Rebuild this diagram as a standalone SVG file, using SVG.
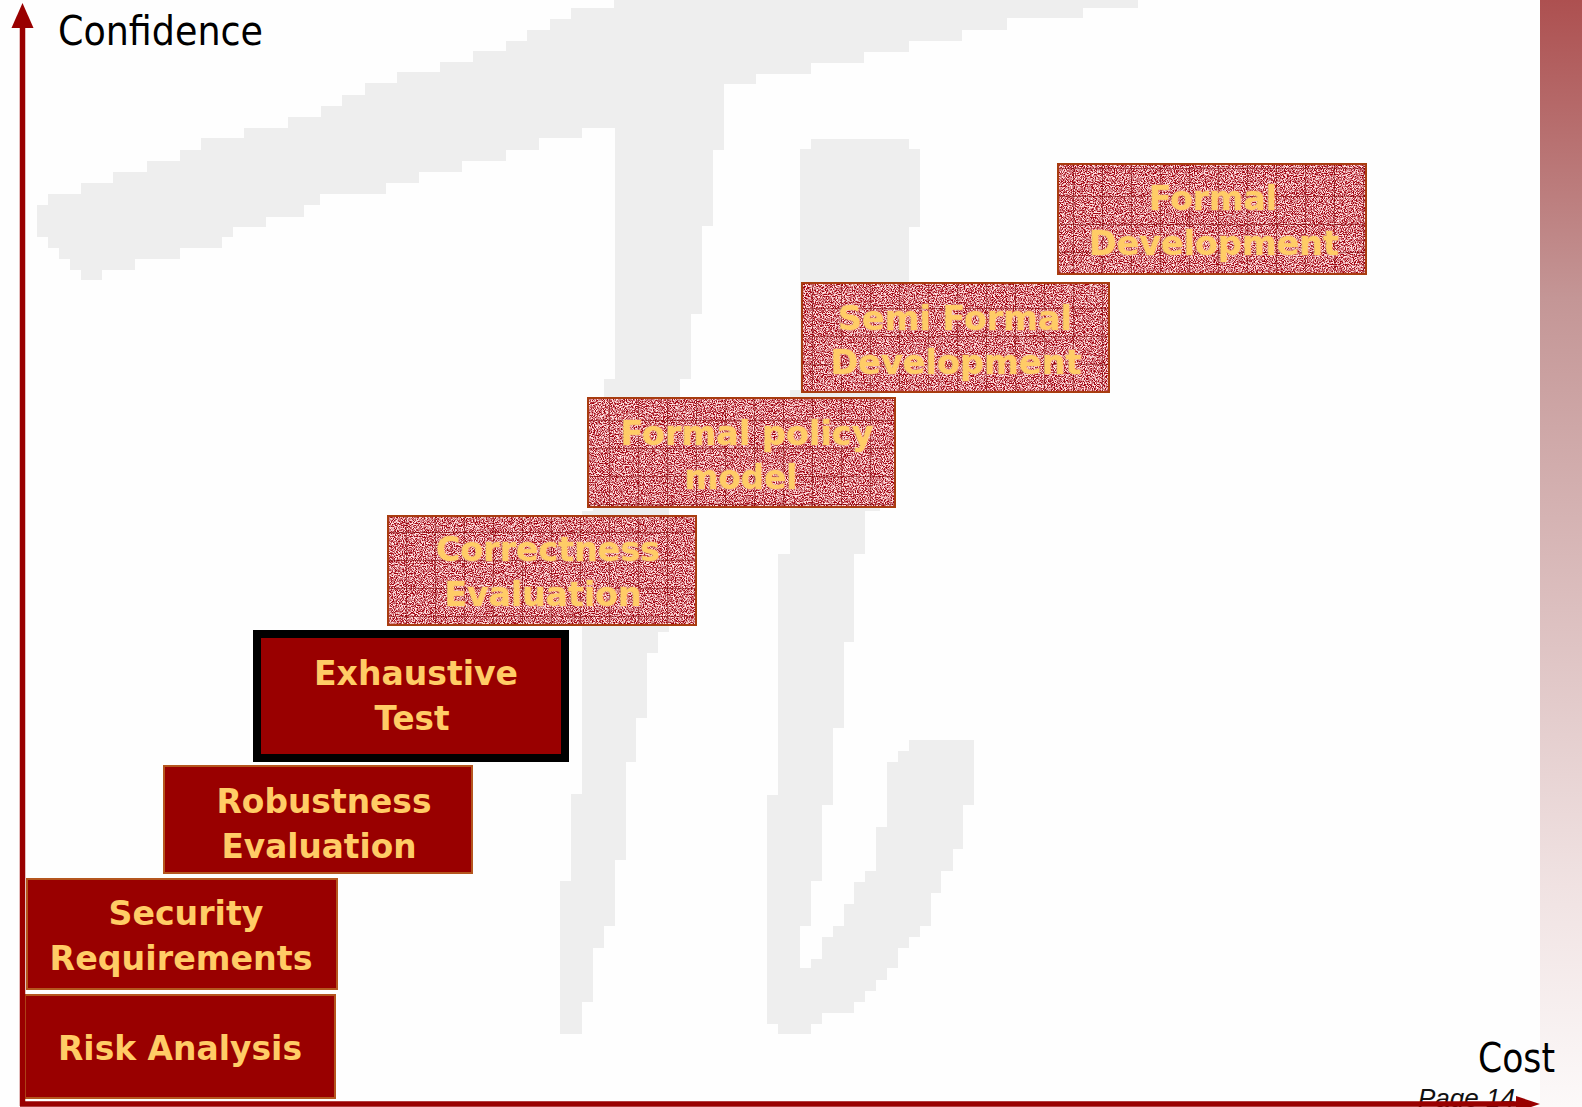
<svg xmlns="http://www.w3.org/2000/svg" width="1582" height="1107" viewBox="0 0 1582 1107">
  <defs>
    <style>
      .axis-label { font-family: "DejaVu Sans", "Liberation Sans", sans-serif; font-size: 41px; fill: #000; }
      .page-label { font-family: "Liberation Sans", Arial, sans-serif; font-style: italic; font-size: 26px; fill: #111; }
      .step-label { font-family: "DejaVu Sans", "Liberation Sans", sans-serif; font-weight: bold; font-size: 34px; fill: #ffcc66; text-anchor: middle; }
      .grain-label { paint-order: stroke; stroke: #f3b59a; stroke-opacity: 0.45; stroke-width: 2; }
      .solid { fill: #990000; stroke: #b5561e; stroke-width: 2; }
      .grain { fill: #a0000e; filter: url(#speckle); }
      .grid { fill: url(#cells); }
      .edge { fill: none; stroke: #a83c10; stroke-width: 2; }
      .mark { fill: #eeeeee; }
      .axis { stroke: #990000; stroke-width: 5.5; fill: none; }
      .head { fill: #990000; }
    </style>
    <linearGradient id="sideband" x1="0" y1="0" x2="0" y2="1">
      <stop offset="0" stop-color="#ad5050"/>
      <stop offset="0.27" stop-color="#c49696"/>
      <stop offset="0.55" stop-color="#dcbfbf"/>
      <stop offset="0.8" stop-color="#f0e2e2"/>
      <stop offset="1" stop-color="#fcf9f9"/>
    </linearGradient>
    <!-- fine red/white grain used by the upper steps -->
    <filter id="speckle" x="0" y="0" width="1" height="1" color-interpolation-filters="sRGB">
      <feTurbulence type="fractalNoise" baseFrequency="0.9" numOctaves="2" seed="7" result="noise"/>
      <feColorMatrix in="noise" type="matrix" values="0 0 0 0 1  0 0 0 0 0.88  0 0 0 0 0.88  4 0 0 0 -1.45" result="spots"/>
      <feComposite in="spots" in2="SourceGraphic" operator="over"/>
    </filter>
    <pattern id="cells" patternUnits="userSpaceOnUse" width="29" height="28">
      <path d="M0.5,0 V28 M0,0.5 H29" stroke="#7a0000" stroke-opacity="0.5" stroke-width="1" fill="none"/>
    </pattern>
  </defs>

  <rect x="0" y="0" width="1582" height="1107" fill="#fefefe"/>

  <!-- large brush-stroke character in the background -->
  <g id="watermark">
    <path class="mark" d="M37,237 V205 H48 V194 H81 V183 H113 V172 H147 V161 H180 V150 H201 V138 H244 V128 H288 V117 H321 V106 H342 V95 H365 V83 H397 V72 H440 V62 H473 V51 H506 V41 H527 V30 H550 V19 H571 V8 H614 V0 H1138 V8 H1083 V18 H1007 V30 H962 V41 H909 V52 H864 V63 H811 V74 H756 V84 H724 V150 H713 V226 H702 V314 H691 V379 H680 V450 H669 V632 H658 V653 H647 V718 H636 V762 H626 V860 H615 V926 H604 V948 H593 V1002 H582 V1034 H560 V881 H571 V794 H582 V511 H593 V470 H604 V379 H615 V128 H582 V138 H539 V150 H506 V161 H462 V172 H419 V183 H386 V194 H320 V205 H304 V217 H266 V227 H233 V237 H222 V248 H180 V259 H135 V270 H102 V280 H81 V270 H70 V259 H59 V248 H48 V237 Z"/>
    <path class="mark" d="M811,139 H909 V149 H920 V227 H909 V282 H880 V511 H865 V554 H854 V642 H844 V728 H833 V805 H822 V881 H811 V926 H800 V968 H811 V959 H822 V937 H833 V926 H844 V904 H854 V882 H865 V871 H876 V827 H887 V762 H898 V751 H909 V740 H974 V805 H963 V849 H953 V871 H941 V893 H931 V926 H920 V937 H909 V948 H898 V968 H887 V980 H876 V991 H865 V1002 H854 V1013 H822 V1024 H811 V1034 H778 V1024 H767 V795 H778 V554 H790 V390 H800 V149 H811 Z"/>
  </g>

  <rect id="side-band" x="1540" y="0" width="42" height="1107" fill="url(#sideband)"/>

  <g id="labels">
    <text class="axis-label" x="58" y="45" textLength="205" lengthAdjust="spacingAndGlyphs">Confidence</text>
    <text class="axis-label" x="1478" y="1072" textLength="77" lengthAdjust="spacingAndGlyphs">Cost</text>
    <text class="page-label" x="1418" y="1107" textLength="97" lengthAdjust="spacingAndGlyphs">Page 14</text>
  </g>

  <g id="risk-analysis">
    <rect class="solid" x="25" y="995" width="310" height="103"/>
    <text class="step-label" x="180" y="1060" textLength="244" lengthAdjust="spacingAndGlyphs">Risk Analysis</text>
  </g>

  <g id="security-requirements">
    <rect class="solid" x="27" y="879" width="310" height="110"/>
    <text class="step-label" x="186" y="925" textLength="155" lengthAdjust="spacingAndGlyphs">Security</text>
    <text class="step-label" x="181" y="970" textLength="263" lengthAdjust="spacingAndGlyphs">Requirements</text>
  </g>

  <g id="robustness-evaluation">
    <rect class="solid" x="164" y="766" width="308" height="107"/>
    <text class="step-label" x="324" y="813" textLength="215" lengthAdjust="spacingAndGlyphs">Robustness</text>
    <text class="step-label" x="319" y="858" textLength="195" lengthAdjust="spacingAndGlyphs">Evaluation</text>
  </g>

  <g id="exhaustive-test">
    <rect x="257" y="634" width="308" height="124" fill="#990000" stroke="#000" stroke-width="8"/>
    <text class="step-label" x="416" y="685" textLength="204" lengthAdjust="spacingAndGlyphs">Exhaustive</text>
    <text class="step-label" x="412" y="730" textLength="75" lengthAdjust="spacingAndGlyphs">Test</text>
  </g>

  <g id="correctness-evaluation">
    <rect class="grain" x="388" y="516" width="308" height="109"/>
    <rect class="grid" x="388" y="516" width="308" height="109"/>
    <rect class="edge" x="388" y="516" width="308" height="109"/>
    <text class="step-label grain-label" x="548" y="561" textLength="224" lengthAdjust="spacingAndGlyphs">Correctness</text>
    <text class="step-label grain-label" x="543" y="606" textLength="197" lengthAdjust="spacingAndGlyphs">Evaluation</text>
  </g>

  <g id="formal-policy-model">
    <rect class="grain" x="588" y="398" width="307" height="109"/>
    <rect class="grid" x="588" y="398" width="307" height="109"/>
    <rect class="edge" x="588" y="398" width="307" height="109"/>
    <text class="step-label grain-label" x="747" y="445" textLength="253" lengthAdjust="spacingAndGlyphs">Formal policy</text>
    <text class="step-label grain-label" x="741" y="489" textLength="113" lengthAdjust="spacingAndGlyphs">model</text>
  </g>

  <g id="semi-formal-development">
    <rect class="grain" x="802" y="283" width="307" height="109"/>
    <rect class="grid" x="802" y="283" width="307" height="109"/>
    <rect class="edge" x="802" y="283" width="307" height="109"/>
    <text class="step-label grain-label" x="955" y="330" textLength="234" lengthAdjust="spacingAndGlyphs">Semi Formal</text>
    <text class="step-label grain-label" x="956" y="374" textLength="251" lengthAdjust="spacingAndGlyphs">Development</text>
  </g>

  <g id="formal-development">
    <rect class="grain" x="1058" y="164" width="308" height="110"/>
    <rect class="grid" x="1058" y="164" width="308" height="110"/>
    <rect class="edge" x="1058" y="164" width="308" height="110"/>
    <text class="step-label grain-label" x="1213" y="210" textLength="128" lengthAdjust="spacingAndGlyphs">Formal</text>
    <text class="step-label grain-label" x="1214" y="255" textLength="250" lengthAdjust="spacingAndGlyphs">Development</text>
  </g>

  <!-- confidence / cost axes -->
  <g id="axes">
    <line class="axis" x1="22.5" y1="1106" x2="22.5" y2="24"/>
    <polygon class="head" points="22.5,3 11.5,28 33.5,28"/>
    <line class="axis" x1="20" y1="1104" x2="1520" y2="1104"/>
    <polygon class="head" points="1516,1096 1540,1104 1516,1112"/>
  </g>
</svg>
